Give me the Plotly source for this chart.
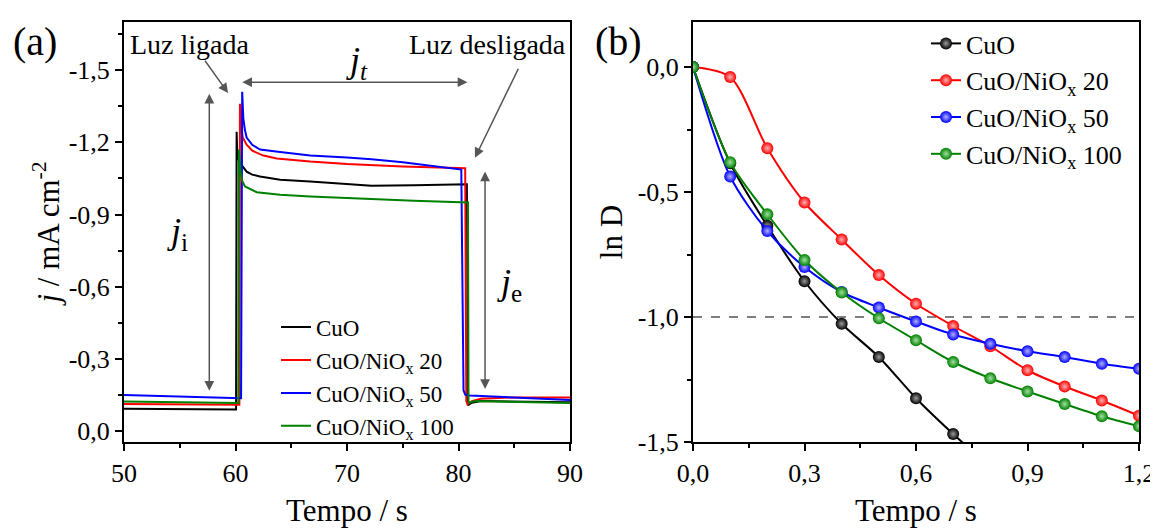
import plotly.graph_objects as go

# ---------------- Panel (a): photocurrent transients ----------------
t_cuo = [50, 55, 60.05, 60.1, 60.15, 60.3, 60.55, 61.0, 61.5, 62.2, 64, 66.7, 70, 72.2, 76, 80.75, 80.85, 81.2, 82, 85, 90]
j_cuo = [-0.093, -0.092, -0.090, -1.244, -1.16, -1.125, -1.105, -1.078, -1.066, -1.058, -1.045, -1.037, -1.025, -1.020, -1.022, -1.026, -0.108, -0.118, -0.125, -0.124, -0.120]

t_nio20 = [50, 55, 60.35, 60.4, 60.5, 60.65, 61.0, 61.5, 62.5, 63.7, 66.7, 70, 75, 80.6, 80.7, 80.8, 81.2, 82, 85, 90]
j_nio20 = [-0.113, -0.112, -0.110, -1.36, -1.27, -1.22, -1.19, -1.165, -1.145, -1.133, -1.12, -1.11, -1.10, -1.092, -0.125, -0.112, -0.125, -0.135, -0.140, -0.140]

t_nio50 = [50, 55, 60.5, 60.6, 60.7, 60.85, 61.0, 61.5, 62.2, 64, 66.7, 70, 72.2, 75, 78, 80.25, 80.45, 80.6, 81, 85, 90]
j_nio50 = [-0.150, -0.145, -0.137, -1.41, -1.30, -1.25, -1.22, -1.19, -1.17, -1.16, -1.145, -1.137, -1.13, -1.117, -1.10, -1.087, -0.170, -0.152, -0.148, -0.140, -0.130]

t_nio100 = [50, 55, 60.25, 60.3, 60.45, 60.6, 60.85, 61.9, 64, 66.7, 72.2, 76, 80.85, 80.9, 81.5, 85, 90]
j_nio100 = [-0.123, -0.120, -0.117, -1.17, -1.08, -1.04, -1.017, -0.993, -0.982, -0.975, -0.963, -0.957, -0.950, -0.118, -0.125, -0.122, -0.117]

# ---------------- Panel (b): ln D decay ----------------
t_decay = [0.0, 0.1, 0.2, 0.3, 0.4, 0.5, 0.6, 0.7, 0.8, 0.9, 1.0, 1.1, 1.2]
lnD_cuo = [0.0, -0.385, -0.635, -0.857, -1.027, -1.16, -1.325, -1.468, -1.60]
lnD_nio20 = [0.0, -0.04, -0.325, -0.542, -0.69, -0.832, -0.947, -1.036, -1.117, -1.213, -1.278, -1.334, -1.395]
lnD_nio50 = [0.0, -0.438, -0.656, -0.80, -0.90, -0.962, -1.018, -1.07, -1.107, -1.137, -1.16, -1.187, -1.207]
lnD_nio100 = [0.0, -0.381, -0.589, -0.772, -0.902, -1.005, -1.093, -1.18, -1.245, -1.298, -1.348, -1.397, -1.437]

series_names = ["CuO", "CuO/NiO<sub>x</sub> 20", "CuO/NiO<sub>x</sub> 50", "CuO/NiO<sub>x</sub> 100"]
series_colors = ["#000000", "#ff0000", "#0000ff", "#008000"]
ball_highlight = ["#9a9a9a", "#ffb0b0", "#b0b0ff", "#a0e0a0"]

# tick labels
a_xticks = [50, 60, 70, 80, 90]
a_xticklabels = ["50", "60", "70", "80", "90"]
a_yticks = [0.0, -0.3, -0.6, -0.9, -1.2, -1.5]
a_yticklabels = ["0,0", "-0,3", "-0,6", "-0,9", "-1,2", "-1,5"]
b_xticks = [0.0, 0.3, 0.6, 0.9, 1.2]
b_xticklabels = ["0,0", "0,3", "0,6", "0,9", "1,2"]
b_yticks = [0.0, -0.5, -1.0, -1.5]
b_yticklabels = ["0,0", "-0,5", "-1,0", "-1,5"]

FONT = "Liberation Serif"
OFF = 8  # page body margin offset
W, H = 1150, 520
ML, MR, MT, MB = 116, 19, 12, 86
PW = W - ML - MR
PH = H - MT - MB


def px_x(px):
    return (px - OFF - ML) / PW


def px_y(py):
    return (H - MB - (py - OFF)) / PH


fig = go.Figure()

a_t = [t_cuo, t_nio20, t_nio50, t_nio100]
a_j = [j_cuo, j_nio20, j_nio50, j_nio100]
for i in range(4):
    fig.add_trace(go.Scatter(
        x=a_t[i], y=a_j[i], mode="lines", name=series_names[i],
        line=dict(color=series_colors[i], width=2),
        xaxis="x", yaxis="y", legend="legend", legendgroup="a%d" % i,
    ))

b_vals = [lnD_cuo, lnD_nio20, lnD_nio50, lnD_nio100]
for i in range(4):
    fig.add_trace(go.Scatter(
        x=t_decay[:len(b_vals[i])], y=b_vals[i], mode="lines+markers", name=series_names[i],
        line=dict(color=series_colors[i], width=2, shape="spline", smoothing=0.8),
        marker=dict(size=12, color=series_colors[i], line=dict(width=0),
                    gradient=dict(type="radial", color=ball_highlight[i])),
        xaxis="x2", yaxis="y2", legend="legend2", legendgroup="b%d" % i,
    ))

axis_common = dict(
    showline=True, linewidth=2, linecolor="black", mirror=True,
    ticks="outside", ticklen=7, tickwidth=2, tickcolor="black",
    showgrid=False, zeroline=False, tickfont=dict(family=FONT, size=26, color="black"),
    automargin=False,
)

fig.update_layout(
    width=W, height=H,
    margin=dict(l=ML, r=MR, t=MT, b=MB),
    paper_bgcolor="white", plot_bgcolor="white",
    font=dict(family=FONT, color="black", size=24),
    xaxis=dict(domain=[0, px_x(570)], range=[50, 90], anchor="y",
               tickmode="array", tickvals=a_xticks, ticktext=a_xticklabels,
               minor=dict(ticks="outside", ticklen=4, tickwidth=2, dtick=5, tick0=55, tickcolor="black"),
               title=dict(text="Tempo / s", font=dict(family=FONT, size=31), standoff=14),
               **axis_common),
    yaxis=dict(domain=[0, 1], range=[0.045, -1.70], anchor="x",
               tickmode="array", tickvals=a_yticks, ticktext=a_yticklabels,
               minor=dict(ticks="outside", ticklen=4, tickwidth=2, dtick=0.3, tick0=-0.15, tickcolor="black"),
               title=dict(text="<i>j</i> / mA cm<sup>-2</sup>", font=dict(family=FONT, size=31), standoff=0),
               **axis_common),
    xaxis2=dict(domain=[px_x(693), 1], range=[0, 1.2], anchor="y2",
                tickmode="array", tickvals=b_xticks, ticktext=b_xticklabels,
                minor=dict(ticks="outside", ticklen=4, tickwidth=2, dtick=0.3, tick0=0.15, tickcolor="black"),
                title=dict(text="Tempo / s", font=dict(family=FONT, size=31), standoff=14),
                **axis_common),
    yaxis2=dict(domain=[0, 1], range=[-1.5, 0.18], anchor="x2",
                tickmode="array", tickvals=b_yticks, ticktext=b_yticklabels,
                minor=dict(ticks="outside", ticklen=4, tickwidth=2, dtick=0.5, tick0=-0.25, tickcolor="black"),
                title=dict(text="ln D", font=dict(family=FONT, size=31), standoff=6),
                **axis_common),
    legend=dict(x=px_x(276), y=px_y(305), xanchor="left", yanchor="top",
                bgcolor="rgba(0,0,0,0)", borderwidth=0, tracegroupgap=0,
                font=dict(family=FONT, size=23, color="black")),
    legend2=dict(x=px_x(926), y=px_y(18), xanchor="left", yanchor="top",
                 bgcolor="rgba(0,0,0,0)", borderwidth=0, tracegroupgap=0,
                 font=dict(family=FONT, size=26, color="black")),
    showlegend=True,
)

# dashed reference line in (b)
fig.add_shape(type="line", xref="x2 domain", x0=0, x1=1, yref="y2", y0=-1.0, y1=-1.0,
              line=dict(color="#555555", width=1.5, dash="dash"), layer="below")

ARROW = "#555555"


def arrow(x_head, y_head, x_tail, y_tail, both=False):
    fig.add_annotation(x=x_head, y=y_head, ax=x_tail, ay=y_tail,
                       xref="x", yref="y", axref="x", ayref="y", text="",
                       showarrow=True, arrowhead=2, arrowsize=1.3, arrowwidth=1.5,
                       arrowcolor=ARROW, arrowside="end+start" if both else "end",
                       startarrowhead=2, startarrowsize=1.3, standoff=0, startstandoff=0)


def label(x, y, text, size, xref="x", yref="y"):
    fig.add_annotation(x=x, y=y, xref=xref, yref=yref, text=text, showarrow=False,
                       font=dict(family=FONT, size=size, color="black"),
                       xanchor="center", yanchor="middle")


# annotations panel (a)
arrow(59.33, -1.405, 57.17, -1.545)           # Luz ligada pointer
arrow(81.48, -1.136, 85.43, -1.512)           # Luz desligada pointer
arrow(80.8, -1.45, 60.47, -1.45, both=True)   # j_t
arrow(57.65, -1.402, 57.65, -0.162, both=True)  # j_i
arrow(82.38, -1.079, 82.38, -0.169, both=True)  # j_e

label(55.92, -1.607, "Luz ligada", 28)
label(82.56, -1.607, "Luz desligada", 28)
label(70.9, -1.53, "<i>j<sub>t</sub></i>", 36)
label(54.84, -0.822, "<i>j</i><sub>i</sub>", 36)
label(84.53, -0.61, "<i>j</i><sub>e</sub>", 36)

# panel labels
label(px_x(35), px_y(40), "(a)", 40, xref="paper", yref="paper")
label(px_x(618), px_y(40), "(b)", 40, xref="paper", yref="paper")

fig.write_html("out.html")
